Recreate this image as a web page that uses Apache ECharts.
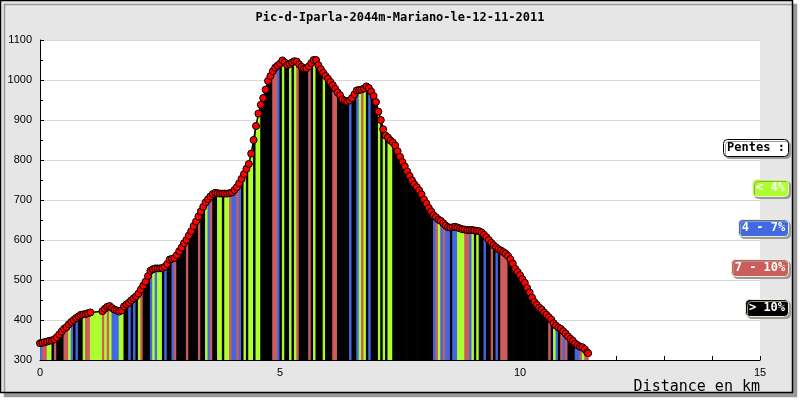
<!DOCTYPE html>
<html><head><meta charset="utf-8">
<script src="https://cdn.jsdelivr.net/npm/echarts@6/dist/echarts.min.js"></script>
<style>html,body{margin:0;padding:0;background:#fff}#c{width:800px;height:400px}</style>
</head><body><div id="c"></div>
<script>
const titleText = 'Pic-d-Iparla-2044m-Mariano-le-12-11-2011';
const xAxisName = 'Distance en km';
const yAxisName = 'Dénivelé en metres';
const legendTitle = 'Pentes :';
const classLabels = ['< 4%', '4 - 7%', '7 - 10%', '> 10%'];
const classColors = ['#adff2f', '#4169e1', '#cd5c5c', '#000000'];

const distKm = [
0,0.05,0.10,0.15,0.20,0.25,0.30,0.35,0.40,0.45,
0.50,0.55,0.60,0.65,0.70,0.75,0.80,0.85,0.90,0.95,
1.00,1.05,
1.30,1.35,1.40,1.45,
1.50,1.55,1.60,1.65,1.70,1.75,1.80,1.85,1.90,1.95,
2.00,2.05,2.10,2.15,2.20,2.25,2.30,2.35,2.40,2.45,
2.50,2.55,2.60,2.65,2.70,2.75,2.80,2.85,2.90,2.95,
3.00,3.05,3.10,3.15,3.20,3.25,3.30,3.35,3.40,3.45,
3.50,3.55,3.60,3.65,3.70,3.75,3.80,3.85,3.90,3.95,
4.00,4.05,4.10,4.15,4.20,4.25,4.30,4.35,4.40,4.45,
4.50,4.55,4.60,4.65,4.70,4.75,4.80,4.85,4.90,4.95,
5.00,5.05,5.10,5.15,5.20,5.25,5.30,5.35,5.40,5.45,
5.50,5.55,5.60,5.65,5.70,5.75,5.80,5.85,5.90,5.95,
6.00,6.05,6.10,6.15,6.20,6.25,6.30,6.35,6.40,6.45,
6.50,6.55,6.60,6.65,6.70,6.75,6.80,6.85,6.90,6.95,
7.00,7.05,7.10,7.15,7.20,7.25,7.30,7.35,7.40,7.45,
7.50,7.55,7.60,7.65,7.70,7.75,7.80,7.85,7.90,7.95,
8.00,8.05,8.10,8.15,8.20,8.25,8.30,8.35,8.40,8.45,
8.50,8.55,8.60,8.65,8.70,8.75,8.80,8.85,8.90,8.95,
9.00,9.05,9.10,9.15,9.20,9.25,9.30,9.35,9.40,9.45,
9.50,9.55,9.60,9.65,9.70,9.75,9.80,9.85,9.90,9.95,
10.00,10.05,10.10,10.15,10.20,10.25,10.30,10.35,10.40,10.45,
10.50,10.55,10.60,10.65,10.70,10.75,10.80,10.85,10.90,10.95,
11.00,11.05,11.10,11.15,11.20,11.25,11.30,11.35,11.40,11.42
];

const elevM = [
342,343,345,346,348,349,352,357,364,371,
378,382,389,395,400,405,409,413,414,415,
417,419,
422,428,433,435,
430,426,424,421,424,434,439,443,449,454,
459,466,476,486,496,510,523,527,529,529,
529,530,533,540,551,553,555,562,572,581,
592,600,611,622,635,646,659,671,683,694,
702,709,715,718,717,716,716,716,716,717,
719,725,732,742,753,765,778,790,816,850,
885,916,938,955,976,998,1010,1022,1031,1036,
1041,1049,1044,1037,1040,1044,1047,1046,1039,1033,
1029,1029,1034,1042,1050,1050,1037,1027,1018,1010,
1003,995,987,978,969,962,952,948,946,949,
955,964,974,975,976,979,984,980,971,960,
945,921,900,877,861,856,849,844,836,822,
808,795,784,771,760,749,739,732,724,714,
701,691,680,671,662,657,651,648,642,636,
632,631,632,633,631,629,627,626,625,625,
625,624,623,622,619,613,607,600,593,587,
582,577,574,570,566,560,552,541,528,520,
512,502,493,480,469,456,445,438,431,426,
419,413,407,401,392,386,381,378,372,366,
359,353,348,341,337,333,332,327,319,317
];

// slope class of each segment (0: <4%, 1: 4-7%, 2: 7-10%, 3: >10%)
const slopeClass = [
1,2,2,0,0,3,2,3,3,3,
2,2,0,1,3,1,3,3,0,2,2,
0,
2,0,2,0,
1,1,1,0,0,3,3,1,3,1,
3,0,2,3,3,3,1,0,1,0,
0,3,1,3,3,1,2,3,3,3,
3,2,3,3,3,3,2,3,3,0,
1,2,3,3,0,0,3,0,0,2,
1,1,2,1,3,0,3,0,0,3,
0,0,3,3,3,3,3,2,2,1,
3,0,3,3,0,3,0,2,3,3,
3,3,2,3,0,3,3,3,0,3,
3,3,2,2,3,3,3,3,3,1,
3,3,1,0,2,0,3,1,3,3,
3,0,3,0,3,0,0,3,3,3,
3,3,3,3,3,3,3,3,3,3,
3,3,3,3,1,2,0,1,2,1,
1,3,1,1,0,0,0,2,2,1,
0,3,0,3,3,1,3,3,2,3,
1,3,2,2,2,3,3,3,3,3,
3,3,3,3,3,3,3,3,3,3,
3,3,2,3,0,1,3,2,1,2,
3,3,3,1,1,2,0,2,2
];

const yMin = 300, yMax = 1100, yStep = 100;
const xMin = 0, xMax = 15, xStep = 5;

const segData = [];
for (let i = 0; i < distKm.length - 1; i++) {
  segData.push([distKm[i], elevM[i], distKm[i + 1], elevM[i + 1], slopeClass[i]]);
}
const lineData = distKm.map((d, i) => [d, elevM[i]]);

const mono = 'DejaVu Sans Mono';
const legendBoxes = [
  { text: legendTitle, x: 723, y: 139, w: 65, fill: '#ffffff', stroke: '#000000', color: '#000000' },
  { text: classLabels[0], x: 752, y: 179, w: 36, fill: classColors[0], stroke: '#f3efc8', color: '#ffffff' },
  { text: classLabels[1], x: 738, y: 219, w: 50, fill: classColors[1], stroke: '#f3efc8', color: '#ffffff' },
  { text: classLabels[2], x: 731, y: 259, w: 57, fill: classColors[2], stroke: '#f3efc8', color: '#ffffff' },
  { text: classLabels[3], x: 745, y: 299, w: 43, fill: classColors[3], stroke: '#f3efc8', color: '#ffffff' }
];
const legendGraphics = [];
legendBoxes.forEach(b => {
  legendGraphics.push({
    type: 'rect', z: 100,
    shape: { x: b.x + 0.5, y: b.y + 0.5, width: b.w, height: 17, r: 4 },
    style: { fill: b.fill, stroke: b.stroke, lineWidth: 1, shadowColor: '#9a9a9a', shadowOffsetX: 2, shadowOffsetY: 2, shadowBlur: 0 }
  });
  legendGraphics.push({
    type: 'text', z: 101,
    x: b.x + b.w / 2 + 0.5, y: b.y + 9,
    style: { text: b.text, fill: b.color, font: 'bold 12px "' + mono + '"', align: 'center', verticalAlign: 'middle' }
  });
});

const chart = echarts.init(document.getElementById('c'), null, { renderer: 'canvas' });
chart.setOption({
  animation: false,
  title: {
    text: titleText, left: 'center', top: 7,
    textStyle: { fontFamily: mono, fontSize: 12, fontWeight: 'bold', color: '#000' }
  },
  graphic: [
    {
      type: 'rect', z: -100,
      shape: { x: 0.5, y: 0.5, width: 792, height: 392 },
      style: { fill: '#e6e6e6', stroke: '#000', lineWidth: 1.5, shadowColor: '#999', shadowOffsetX: 4, shadowOffsetY: 4, shadowBlur: 0 }
    }
  ].concat(legendGraphics),
  grid: { left: 40, right: 40, top: 40, bottom: 40, containLabel: false, outerBoundsMode: 'none', show: true, backgroundColor: '#ffffff', borderWidth: 0 },
  xAxis: {
    type: 'value', min: xMin, max: xMax, interval: xStep,
    name: xAxisName, nameLocation: 'end', nameGap: 0,
    nameTextStyle: { fontFamily: mono, fontSize: 15, color: '#000', align: 'right', verticalAlign: 'top', padding: [20, 0, 0, 0] },
    axisLine: { show: true, lineStyle: { color: '#000', width: 1 } },
    axisTick: { show: true, inside: true, length: 4, lineStyle: { color: '#000' } },
    minorTick: { show: true, splitNumber: 5, length: 4, lineStyle: { color: '#000' } },
    axisLabel: { margin: 7, fontFamily: 'Liberation Sans', fontSize: 11, color: '#000', formatter: v => String(v) },
    splitLine: { show: false }
  },
  yAxis: {
    type: 'value', min: yMin, max: yMax, interval: yStep,
    name: yAxisName, nameLocation: 'middle', nameGap: 25, nameRotate: 90,
    nameTextStyle: { fontFamily: mono, fontSize: 15, color: '#000' },
    axisLine: { show: true, lineStyle: { color: '#000', width: 1 } },
    axisTick: { show: true, inside: true, length: 4, lineStyle: { color: '#000' } },
    minorTick: { show: true, splitNumber: 2, length: 3, lineStyle: { color: '#000' } },
    axisLabel: { margin: 8, fontFamily: 'Liberation Sans', fontSize: 11, color: '#000', formatter: v => String(v) },
    splitLine: { show: true, lineStyle: { color: '#d9d9d9', width: 1 } }
  },
  series: [
    {
      type: 'custom', name: 'pentes', clip: true,
      dimensions: ['x0', 'y0', 'x1', 'y1', 'cls'],
      encode: { x: [0, 2], y: [1, 3] },
      data: segData,
      renderItem: function (params, api) {
        const x0 = api.value(0), y0 = api.value(1), x1 = api.value(2), y1 = api.value(3), c = api.value(4);
        const pts = [api.coord([x0, yMin]), api.coord([x0, y0]), api.coord([x1, y1]), api.coord([x1, yMin])];
        const col = classColors[c];
        return { type: 'polygon', shape: { points: pts }, style: { fill: col, stroke: col, lineWidth: 1 } };
      },
      z: 2
    },
    {
      type: 'line', name: 'profil', data: lineData,
      showSymbol: true, showAllSymbol: true, symbol: 'circle', symbolSize: 7,
      lineStyle: { color: '#000', width: 1.5 },
      itemStyle: { color: '#ff0000', borderColor: '#000', borderWidth: 1 },
      z: 3
    }
  ]
});
</script>
</body></html>
